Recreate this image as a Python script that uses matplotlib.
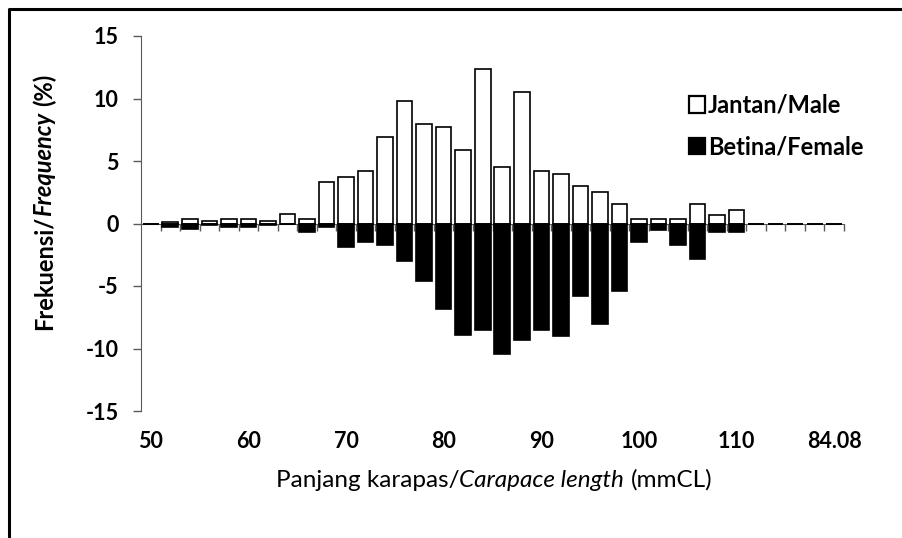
"""Carapace length frequency of males vs females, back-to-back bars."""

import matplotlib
matplotlib.use("Agg")
import matplotlib.pyplot as plt
import numpy as np
from matplotlib.lines import Line2D
from matplotlib.patches import Patch
from matplotlib.transforms import IdentityTransform

FONT = "Lato"
INK = "#000000"
AXIS = "#5a5a5a"
W, H, DPI = 902, 538, 100

# Length classes (mmCL); the last category is labelled 84.08 in the source.
SIZE_CLASSES = [
    "50", "52", "54", "56", "58", "60", "62", "64", "66", "68",
    "70", "72", "74", "76", "78", "80", "82", "84", "86", "88",
    "90", "92", "94", "96", "98", "100", "102", "104", "106", "108",
    "110", "112", "114", "116", "118", "84.08",
]
# Frequency (%) per class
MALE = [
    0.0, 0.1, 0.4, 0.2, 0.4, 0.4, 0.2, 0.8, 0.4, 3.3,
    3.7, 4.2, 6.9, 9.8, 8.0, 7.7, 5.9, 12.4, 4.5, 10.5,
    4.2, 4.0, 3.0, 2.5, 1.6, 0.4, 0.4, 0.4, 1.6, 0.7,
    1.1, 0.0, 0.0, 0.0, 0.0, 0.0,
]
FEMALE = [
    0.0, -0.3, -0.4, -0.15, -0.25, -0.25, -0.15, 0.0, -0.7, -0.25,
    -1.9, -1.5, -1.7, -3.0, -4.6, -6.8, -8.9, -8.5, -10.4, -9.3,
    -8.5, -9.0, -5.8, -8.0, -5.4, -1.5, -0.5, -1.7, -2.8, -0.7,
    -0.7, 0.0, 0.0, 0.0, 0.0, 0.0,
]
Y_TICKS = [-15, -10, -5, 0, 5, 10, 15]
LABEL_EVERY = 5


def px(x, y):
    """Pixel position (top-left origin) -> figure fraction."""
    return x / W, 1 - y / H


def mixed_text(fig, cx, cy, pieces, size, rotation=0):
    """Draw consecutive text runs with different styles, centred on (cx, cy) px."""
    r = fig.canvas.get_renderer()
    probe = fig.text(0, 0, "x x", fontsize=size, family=FONT)
    probe2 = fig.text(0, 0, "xx", fontsize=size, family=FONT)
    space = probe.get_window_extent(r).width - probe2.get_window_extent(r).width
    probe.remove()
    probe2.remove()

    arts, lens = [], []
    for s, weight, style, gap in pieces:
        t = fig.text(0, 0, s, fontsize=size, family=FONT, weight=weight,
                     style=style, rotation=rotation, color=INK,
                     transform=IdentityTransform(),
                     ha="left" if rotation == 0 else "center",
                     va="baseline" if rotation == 0 else "bottom")
        bb = t.get_window_extent(r)
        arts.append((t, gap))
        lens.append(bb.width if rotation == 0 else bb.height)
    total = sum(lens) + space * sum(g for _, g in arts)
    dx, dy = cx, H - cy
    pos = (dx if rotation == 0 else dy) - total / 2
    for (t, gap), ln in zip(arts, lens):
        pos += space * gap
        if rotation == 0:
            t.set_position((pos, dy))
        else:
            t.set_position((dx, pos))
        pos += ln


def main():
    fig = plt.figure(figsize=(W / DPI, H / DPI), dpi=DPI)
    fig.patch.set_facecolor("white")

    ax = fig.add_axes([141 / W, 1 - 411 / H, (844 - 141) / W, (411 - 36) / H])
    x = np.arange(len(SIZE_CLASSES))
    ax.bar(x, MALE, width=0.8, color="white", edgecolor=INK, linewidth=1.2, zorder=3)
    ax.bar(x, FEMALE, width=0.8, color=INK, edgecolor=INK, linewidth=1.2, zorder=3)

    ax.set_xlim(-0.5, len(SIZE_CLASSES) - 0.5)
    ax.set_ylim(-15, 15)
    ax.set_yticks(Y_TICKS)
    ax.set_yticklabels([str(v) for v in Y_TICKS], fontsize=15.5,
                       fontweight="bold", family=FONT)
    ax.tick_params(axis="y", direction="out", length=6, width=1, color=AXIS, pad=10)

    # category axis sits on zero, ticks between categories
    ax.spines["bottom"].set_position(("data", 0))
    ax.spines["bottom"].set_color(AXIS)
    ax.spines["left"].set_color(AXIS)
    ax.spines["top"].set_visible(False)
    ax.spines["right"].set_visible(False)
    ax.set_xticks(x[:-1] + 0.5)
    ax.set_xticks([len(SIZE_CLASSES) - 0.5], minor=True)
    ax.set_xticklabels([])
    ax.tick_params(axis="x", which="both", direction="out", length=5, width=1, color=AXIS)

    for i in range(0, len(SIZE_CLASSES), LABEL_EVERY):
        ax.text(i, -0.08, SIZE_CLASSES[i], transform=ax.get_xaxis_transform(),
                ha="center", va="center", fontsize=15.5, fontweight="bold",
                family=FONT, color=INK)

    handles = [Patch(facecolor="white", edgecolor=INK, linewidth=1.6),
               Patch(facecolor=INK, edgecolor=INK, linewidth=1.6)]
    ax.legend(handles, ["Jantan/Male", "Betina/Female"], loc="upper left",
              bbox_to_anchor=px(677, 82), bbox_transform=fig.transFigure,
              frameon=False, borderpad=0, handlelength=0.7, handleheight=0.7,
              handletextpad=0.12, labelspacing=0.78,
              prop={"family": FONT, "weight": "bold", "size": 17})

    mixed_text(fig, 44, 202, [("Frekuensi/", "bold", "normal", 0),
                              ("Frequency", "bold", "italic", 0),
                              ("(%)", "bold", "normal", 1)], size=17, rotation=90)
    mixed_text(fig, 494, 487, [("Panjang karapas/", "normal", "normal", 0),
                               ("Carapace length", "normal", "italic", 0),
                               ("(mmCL)", "normal", "normal", 1)], size=17.5)

    # outer frame: only the left and top edges are inside the crop
    fig.add_artist(Line2D([9 / W, 9 / W, 1.0], [0.0, 1 - 9 / H, 1 - 9 / H],
                          transform=fig.transFigure, color=INK, linewidth=2.2))

    fig.savefig("out.png", dpi=DPI, facecolor="white")
    plt.close(fig)


if __name__ == "__main__":
    main()
